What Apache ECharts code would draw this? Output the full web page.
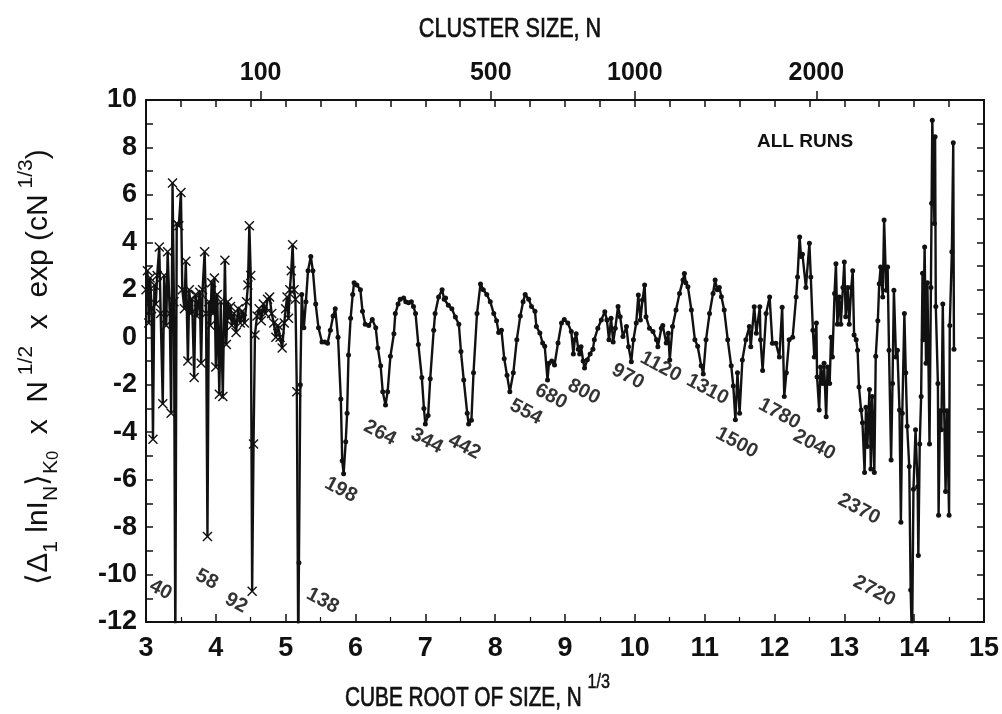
<!DOCTYPE html>
<html><head><meta charset="utf-8">
<script src="https://cdn.jsdelivr.net/npm/echarts@6/dist/echarts.min.js"></script>
<style>html,body{margin:0;padding:0;background:#fff}#c{width:1002px;height:714px}</style>
</head><body><div id="c"></div>
<script>
// small clusters (cross markers): x = cube root of size, y = value
const cubeRootSmall = [3.00,3.02,3.04,3.06,3.08,3.10,3.12,3.14,3.16,3.19,3.21,3.24,3.26,3.29,3.31,3.34,3.36,3.38,3.40,3.42,3.44,3.47,3.50,3.52,3.55,3.57,3.60,3.62,3.64,3.66,3.69,3.71,3.73,3.75,3.77,3.79,3.81,3.84,3.86,3.88,3.90,3.92,3.94,3.96,3.98,4.00,4.02,4.05,4.07,4.10,4.13,4.15,4.17,4.19,4.21,4.23,4.26,4.29,4.32,4.35,4.38,4.41,4.44,4.46,4.48,4.50,4.52,4.54,4.56,4.59,4.62,4.65,4.68,4.71,4.74,4.77,4.80,4.83,4.86,4.89,4.92,4.95,4.98,5.00,5.02,5.04,5.06,5.08,5.10,5.12,5.14,5.16,5.18];
const valueSmall = [2.0,2.8,0.6,2.5,1.2,-4.3,2.2,1.4,2.6,3.8,1.0,-2.8,2.6,0.5,3.6,1.0,-3.2,6.5,1.5,-13,4.8,4.7,6.1,2.0,1.2,3.2,-1.0,2.0,1.0,1.6,-1.7,1.8,0.9,1.5,1.9,-1.1,2.0,3.6,1.0,-8.4,1.5,0.5,2.3,1.0,2.5,-1.25,1.8,-2.4,1.5,-2.5,3.25,-0.3,1.5,0.8,1.3,0.5,1.0,0.2,1.2,0.6,1.1,0.6,1.5,2.2,4.7,2.6,-10.7,-4.5,0.1,0.9,1.2,0.7,1.4,1.0,1.6,1.7,1.0,0.6,0.0,0.5,0.0,-0.45,0.6,1.2,1.7,0.8,2.0,2.8,3.9,2.0,1.6,-2.3,-13];
// larger clusters (dot markers)
const cubeRootLarge = [5.18,5.19,5.21,5.23,5.26,5.29,5.32,5.36,5.39,5.43,5.47,5.52,5.56,5.60,5.64,5.68,5.71,5.75,5.79,5.81,5.83,5.86,5.88,5.90,5.93,5.96,5.98,6.02,6.07,6.10,6.14,6.19,6.24,6.29,6.32,6.36,6.39,6.43,6.46,6.50,6.55,6.57,6.61,6.64,6.69,6.72,6.76,6.80,6.83,6.86,6.90,6.95,6.98,7.00,7.04,7.07,7.12,7.14,7.19,7.24,7.27,7.29,7.33,7.38,7.43,7.48,7.51,7.55,7.60,7.62,7.66,7.69,7.74,7.79,7.83,7.88,7.93,7.98,8.02,8.05,8.09,8.13,8.17,8.21,8.26,8.31,8.36,8.40,8.43,8.48,8.52,8.57,8.59,8.64,8.68,8.71,8.75,8.77,8.81,8.85,8.90,8.95,8.99,9.04,9.09,9.12,9.14,9.16,9.19,9.21,9.23,9.26,9.28,9.32,9.36,9.40,9.42,9.47,9.52,9.57,9.60,9.63,9.66,9.69,9.72,9.76,9.79,9.83,9.88,9.91,9.95,9.98,10.02,10.05,10.08,10.11,10.14,10.16,10.21,10.26,10.31,10.33,10.38,10.40,10.45,10.48,10.50,10.54,10.59,10.64,10.69,10.71,10.73,10.76,10.81,10.86,10.90,10.95,10.98,11.02,11.07,11.12,11.15,11.18,11.21,11.24,11.28,11.33,11.38,11.41,11.44,11.47,11.50,11.54,11.59,11.64,11.66,11.71,11.74,11.79,11.80,11.83,11.88,11.93,11.97,12.02,12.07,12.11,12.14,12.17,12.21,12.26,12.31,12.33,12.36,12.38,12.40,12.45,12.50,12.52,12.55,12.57,12.60,12.61,12.64,12.66,12.69,12.71,12.74,12.76,12.79,12.81,12.83,12.86,12.88,12.90,12.93,12.95,12.98,13.00,13.02,13.05,13.07,13.10,13.12,13.14,13.17,13.19,13.21,13.24,13.26,13.29,13.31,13.33,13.36,13.38,13.40,13.43,13.45,13.48,13.50,13.52,13.55,13.57,13.60,13.62,13.64,13.67,13.69,13.71,13.74,13.76,13.79,13.81,13.83,13.86,13.88,13.90,13.93,13.95,13.97,13.99,14.02,14.05,14.06,14.08,14.10,14.12,14.13,14.15,14.17,14.19,14.22,14.24,14.25,14.26,14.29,14.30,14.31,14.34,14.35,14.37,14.39,14.41,14.43,14.45,14.47,14.50,14.51,14.54,14.56,14.57];
const valueLarge = [-13,-9.5,-2.0,1.8,0.4,1.5,2.8,3.4,2.8,1.4,0.4,-0.2,-0.2,-0.25,0.3,0.9,1.2,0.0,-2.6,-5.2,-5.75,-4.4,-3.2,-0.75,0.8,1.8,2.3,2.2,2.0,1.1,0.55,0.5,0.75,0.4,-0.45,-1.2,-2.3,-2.85,-2.3,-0.8,0.15,1.0,1.4,1.6,1.65,1.5,1.45,1.5,1.3,1.0,-0.3,-1.7,-3.0,-3.65,-3.3,-1.75,0.3,1.0,1.7,2.0,1.6,1.65,1.35,1.2,0.85,0.55,-0.6,-1.8,-3.2,-3.65,-3.5,-1.5,1.0,2.25,2.0,1.8,1.5,1.0,0.7,0.2,0.3,-0.9,-1.6,-2.3,-1.5,-0.1,0.9,1.5,1.8,1.6,1.3,1.1,0.45,0.18,-0.24,-0.38,-1.8,-1.1,-1.0,-1.17,-0.24,0.6,0.75,0.6,0.24,-0.7,-0.1,0.15,-0.5,-0.7,-0.4,-1.0,-1.3,-0.95,-0.7,-0.5,-0.1,0.38,0.73,1.08,0.73,-0.1,0.8,-0.2,0.38,1.3,0.87,0.03,0.45,-0.4,-1.03,-0.1,0.6,1.78,0.73,1.57,2.2,0.87,0.38,0.24,-0.1,-0.4,0.38,0.5,-0.24,0.17,-0.96,0.45,1.15,1.85,2.41,2.69,2.3,2.13,1.15,-0.1,-0.38,-1.2,-1.55,-0.1,1.0,1.85,2.41,2.0,2.1,1.71,1.15,-0.1,-1.2,-2.05,-3.48,-1.5,-3.2,-0.96,-0.1,0.45,-0.4,1.29,0.17,1.29,-0.1,-1.4,1.0,1.7,-0.25,-0.25,-0.83,1.27,-2.5,-1.5,-0.1,0.0,1.7,2.54,4.23,3.4,3.5,2.1,3.96,2.54,0.3,-0.83,0.6,-1.67,-3.07,-1.25,-1.95,-1.1,-3.35,-1.25,-1.95,0.0,-0.83,1.84,3.1,0.55,1.7,0.55,2.1,3.17,0.86,2.1,0.55,2.1,2.8,0.1,-0.1,-0.55,-2.1,-3.07,-3.6,-5.7,-2.95,-4.6,-2.2,-5.55,-2.5,-5.7,-0.8,0.7,2.26,2.96,1.7,4.94,1.98,2.96,-0.55,-5.17,-1.95,1.98,-0.83,-0.55,-3.07,-7.8,-3.2,1.0,-1.5,-3.75,-5.45,-10.65,-13,-6.4,-3.9,-6.3,-9.2,-4.5,-2.5,2.7,-0.1,3.8,-1.1,2.3,-4.5,2.1,5.65,9.15,4.8,8.45,1.3,-1.95,-7.5,-3.1,-3.9,1.4,-3.1,-6.5,-3.1,-7.5,0.5,3.6,8.2,-0.5];
// annotated cluster sizes and where their labels sit (data units)
const magicSizes = [40,58,92,138,198,264,344,442,554,680,800,970,1120,1310,1500,1780,2040,2370,2720];
const magicLabelX = [3.21,3.87,4.29,5.53,5.79,6.35,7.02,7.56,8.44,8.80,9.27,9.90,10.37,11.04,11.46,12.07,12.57,13.21,13.43];
const magicLabelY = [-10.65,-10.2,-11.2,-11.1,-6.43,-4.03,-4.37,-4.62,-3.15,-2.5,-2.3,-1.65,-1.25,-2.2,-4.45,-3.23,-4.54,-7.24,-10.7];
// top axis cluster sizes
const topSizes = [100,500,1000,2000];

const FONT = "'Liberation Sans', Arial, Helvetica, sans-serif";
const INK = '#111';
const CROSS = 'path://M0,1L1,0L5,4L9,0L10,1L6,5L10,9L9,10L5,6L1,10L0,9L4,5Z';
const pairs = (xs, ys) => xs.map((x, i) => [x, ys[i]]);
const topPos = topSizes.map(n => Math.cbrt(n));
const f = (px) => px + "px 'Liberation Sans', Arial, sans-serif";

const chart = echarts.init(document.getElementById('c'));
chart.setOption({
  animation: false,
  backgroundColor: '#fff',
  grid: {left: 146, right: 17, top: 100, bottom: 92},
  xAxis: [
    {type: 'value', position: 'bottom', min: 3, max: 15, interval: 1,
     axisLine: {onZero: false, lineStyle: {color: INK, width: 2}},
     axisTick: {inside: true, length: 8, lineStyle: {color: INK, width: 1.5}},
     minorTick: {show: true, splitNumber: 2, length: 5, lineStyle: {color: INK, width: 1.2}},
     splitLine: {show: false},
     axisLabel: {color: INK, fontFamily: FONT, fontWeight: 'bold', fontSize: 27, margin: 13}
    },
    {type: 'value', position: 'top', min: 3, max: 15, interval: 0.5,
     axisLine: {onZero: false, lineStyle: {color: INK, width: 2}},
     axisTick: {inside: true, length: 7, lineStyle: {color: INK, width: 1.5}},
     splitLine: {show: false}, axisLabel: {show: false}
    },
    {type: 'value', position: 'top', min: 3, max: 15,
     axisLine: {show: false, onZero: false},
     axisTick: {show: true, inside: false, length: 9, customValues: topPos, lineStyle: {color: INK, width: 1.5}},
     splitLine: {show: false},
     axisLabel: {customValues: topPos, formatter: v => String(Math.round(v * v * v)),
       color: INK, fontFamily: FONT, fontWeight: 'bold', fontSize: 25, margin: 14}
    }
  ],
  yAxis: [
    {type: 'value', position: 'left', min: -12, max: 10, interval: 1,
     axisLine: {onZero: false, lineStyle: {color: INK, width: 2}},
     axisTick: {inside: true, length: 7, lineStyle: {color: INK, width: 1.5}},
     splitLine: {show: false},
     axisLabel: {color: INK, fontFamily: FONT, fontWeight: 'bold', fontSize: 27, margin: 9,
       formatter: v => (Math.round(v) % 2 === 0 ? String(v) : '')}
    },
    {type: 'value', position: 'right', min: -12, max: 10, interval: 1,
     axisLine: {onZero: false, lineStyle: {color: INK, width: 2}},
     axisTick: {inside: true, length: 7, lineStyle: {color: INK, width: 1.5}},
     splitLine: {show: false}, axisLabel: {show: false}
    }
  ],
  graphic: [
    {type: 'text', x: 510, y: 30, scaleX: 0.8, silent: true,
     style: {text: 'CLUSTER SIZE, N', font: f(27), fill: INK, stroke: INK, lineWidth: 0.7,
       align: 'center', verticalAlign: 'middle'}},
    {type: 'text', x: 345, y: 692, scaleX: 0.77, silent: true,
     style: {text: '{a|CUBE ROOT OF SIZE, N }{p|1/3}', align: 'left', verticalAlign: 'middle',
       rich: {
         a: {font: f(27), fill: INK, stroke: INK, lineWidth: 0.7, lineHeight: 40, verticalAlign: 'bottom'},
         p: {font: f(21), fill: INK, stroke: INK, lineWidth: 0.5, lineHeight: 40, verticalAlign: 'top'}}}},
    {type: 'text', x: 39, y: 367, rotation: Math.PI / 2, silent: true,
     style: {text: '{a|⟨Δ}{s|1}{a| lnI}{s|N}{a|⟩}{s|K}{ss|0}{a|  x  N}{p| 1/2}{a|  x  exp (cN}{p| 1/3}{a|)}',
       align: 'center', verticalAlign: 'middle',
       rich: {
         a: {font: f(30), fill: INK, lineHeight: 46, verticalAlign: 'middle'},
         s: {font: f(21), fill: INK, lineHeight: 21, verticalAlign: 'bottom'},
         ss: {font: f(16), fill: INK, lineHeight: 16, verticalAlign: 'bottom'},
         p: {font: f(21), fill: INK, lineHeight: 21, verticalAlign: 'top'}}}},
    {type: 'text', x: 757, y: 142, silent: true,
     style: {text: 'ALL RUNS', font: 'bold ' + f(19), fill: INK, align: 'left', verticalAlign: 'middle'}}
  ],
  series: [
    {type: 'line', data: pairs(cubeRootSmall, valueSmall), xAxisIndex: 0, yAxisIndex: 0,
     symbol: CROSS, symbolSize: 10, showAllSymbol: true, clip: true,
     lineStyle: {color: INK, width: 2.4}, itemStyle: {color: INK}},
    {type: 'line', data: pairs(cubeRootLarge, valueLarge), xAxisIndex: 0, yAxisIndex: 0,
     symbol: 'circle', symbolSize: 5, showAllSymbol: true, clip: true,
     lineStyle: {color: INK, width: 2.4}, itemStyle: {color: INK}},
    {type: 'scatter', xAxisIndex: 0, yAxisIndex: 0, symbolSize: 1, silent: true,
     itemStyle: {color: 'rgba(0,0,0,0)'},
     data: magicSizes.map((n, i) => ({value: [magicLabelX[i], magicLabelY[i]], name: String(n)})),
     label: {show: true, position: 'inside', formatter: p => p.name, rotate: -28,
       color: '#000', textBorderWidth: 0, fontFamily: FONT, fontWeight: 'bold', fontSize: 20}}
  ]
});
</script></body></html>
